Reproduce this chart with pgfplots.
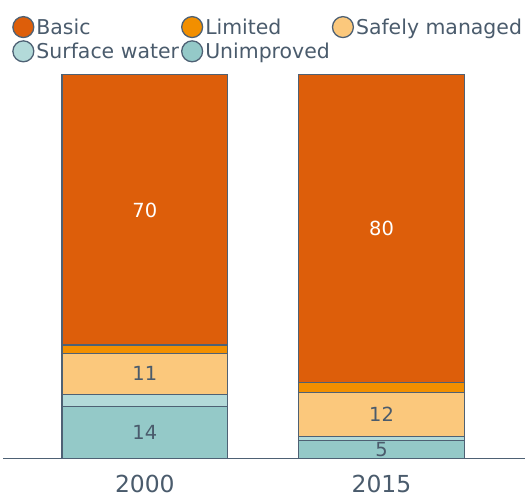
\documentclass[border=0pt]{standalone}
\usepackage{fontspec}
\setmainfont{DejaVu Sans}
\usepackage{pgfplots}
\pgfplotsset{compat=1.18}
\definecolor{cbasic}{HTML}{DD5E0A}
\definecolor{climit}{HTML}{F28F00}
\definecolor{csafe}{HTML}{FBC87C}
\definecolor{csurf}{HTML}{B3DAD9}
\definecolor{cunimp}{HTML}{94C9C8}
\definecolor{edgecol}{HTML}{4E6174}
\definecolor{txtcol}{HTML}{4A5B6C}
\begin{document}
\begin{tikzpicture}
\begin{axis}[
    scale only axis, width=523.7pt, height=385.3pt,
    at={(0pt,0pt)}, anchor=south west,
    ybar stacked, bar width=0.7,
    xmin=-0.598, xmax=1.608, ymin=0, ymax=100,
    axis x line*=bottom, hide y axis,
    axis line style={edgecol, line width=1.5pt},
    xtick={0,1}, xticklabels={2000,2015},
    major tick length=0pt,
    xticklabel style={text=txtcol, font=\fontsize{23.5}{28}\selectfont, yshift=-13pt},
    legend columns=3, reverse legend, legend cell align=left,
    legend style={at={(0.011,1.158)}, anchor=north west, draw=none, fill=none,
        font=\fontsize{20.5}{24}\selectfont, text=txtcol, row sep=2pt,
        /tikz/every even column/.append style={column sep=0pt}},
]
% bottom to top
\addplot[fill=cunimp, draw=edgecol, line width=1.5pt,
    legend image code/.code={\draw[fill=cunimp,draw=edgecol,line width=1.3pt] (0pt,0pt) circle (10.5pt);}]
    coordinates {(0,13.6) (1,4.7)};
\addlegendentry{Unimproved}
\addplot[fill=csurf, draw=edgecol, line width=1.5pt,
    legend image code/.code={\draw[fill=csurf,draw=edgecol,line width=1.3pt] (0pt,0pt) circle (10.5pt);}]
    coordinates {(0,3.1) (1,1.0)};
\addlegendentry{Surface water}
\addplot[fill=csafe, draw=edgecol, line width=1.5pt,
    legend image code/.code={\draw[fill=csafe,draw=edgecol,line width=1.3pt] (0pt,0pt) circle (10.5pt);}]
    coordinates {(0,10.7) (1,11.5)};
\addlegendentry{Safely managed}
\addplot[fill=climit, draw=edgecol, line width=1.5pt,
    legend image code/.code={\draw[fill=climit,draw=edgecol,line width=1.3pt] (0pt,0pt) circle (10.5pt);}]
    coordinates {(0,2.2) (1,2.6)};
\addlegendentry{Limited}
\addplot[fill=cbasic, draw=edgecol, line width=1.5pt,
    legend image code/.code={\draw[fill=cbasic,draw=edgecol,line width=1.3pt] (0pt,0pt) circle (10.5pt);}]
    coordinates {(0,70.4) (1,80.2)};
\addlegendentry{Basic}

\coordinate (a14) at (axis cs:0,6.8);
\coordinate (a11) at (axis cs:0,22.05);
\coordinate (a70) at (axis cs:0,64.6);
\coordinate (b5) at (axis cs:1,2.35);
\coordinate (b12) at (axis cs:1,11.45);
\coordinate (b80) at (axis cs:1,59.9);
\end{axis}
\begin{scope}[font=\fontsize{19.5}{22}\selectfont]
\node[text=txtcol] at (a14) {14};
\node[text=txtcol] at (a11) {11};
\node[text=white] at (a70) {70};
\node[text=txtcol] at (b5) {5};
\node[text=txtcol] at (b12) {12};
\node[text=white] at (b80) {80};
\end{scope}
\path (-3.3pt,-39pt) rectangle (523.7pt,460pt);
\end{tikzpicture}
\end{document}
